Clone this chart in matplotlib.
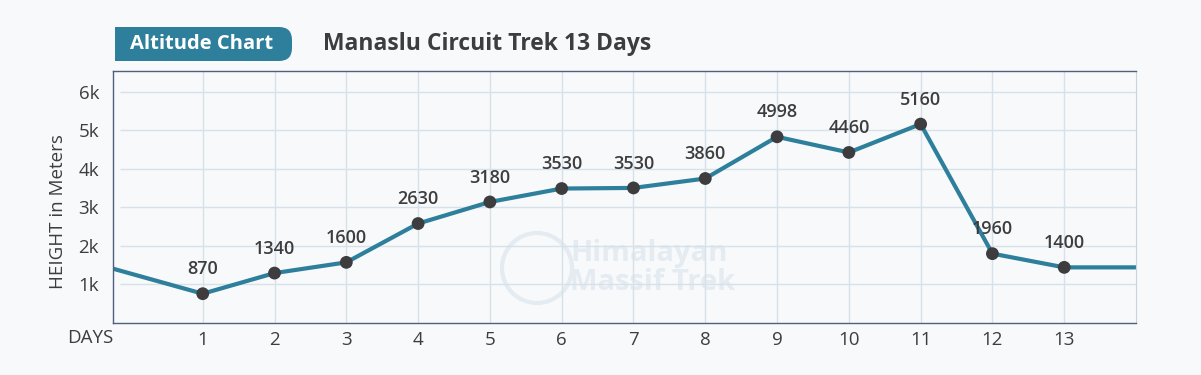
import matplotlib
matplotlib.use("Agg")
import matplotlib.pyplot as plt
from matplotlib.patches import FancyBboxPatch, Rectangle, Circle

plt.rcParams["font.family"] = ["Open Sans", "DejaVu Sans"]

# data
days = [1, 2, 3, 4, 5, 6, 7, 8, 9, 10, 11, 12, 13]
heights = [760, 1295, 1573, 2580, 3140, 3488, 3504, 3748, 4830, 4424, 5160, 1799, 1443]
labels = ["870", "1340", "1600", "2630", "3180", "3530", "3530", "3860",
          "4998", "4460", "5160", "1960", "1400"]
start_height = 1409
end_height = 1443
y_ticks = [1000, 2000, 3000, 4000, 5000, 6000]
y_tick_labels = ["1k", "2k", "3k", "4k", "5k", "6k"]

BG = "#f8f9fb"
TEAL = "#2e7f9b"
DARK = "#3d3d3f"
GRID = "#d6e1ea"
SPINE = "#4f5f80"
WATERMARK = "#e4ebf1"
X_MIN, X_MAX = -0.25, 14.0

W, H = 1201, 375
fig = plt.figure(figsize=(W / 100, H / 100), dpi=100, facecolor=BG)

# overlay in pixel units for header and watermark
over = fig.add_axes([0, 0, 1, 1], zorder=-1)
over.set_xlim(0, W)
over.set_ylim(H, 0)
over.axis("off")
over.add_patch(FancyBboxPatch((115, 27), 177, 34, boxstyle="round,pad=0,rounding_size=13",
                              facecolor=TEAL, edgecolor="none"))
over.add_patch(Rectangle((115, 27), 40, 34, facecolor=TEAL, edgecolor="none"))
over.text(202, 44, "Altitude Chart", color="white", fontsize=14.5, fontweight="bold",
          ha="center", va="center")
over.text(323, 44, "Manaslu Circuit Trek 13 Days", color=DARK, fontsize=16.5,
          fontweight="bold", ha="left", va="center")
# faint watermark
over.add_patch(Circle((537, 268), 35, facecolor="none", edgecolor=WATERMARK, linewidth=3))
over.text(570, 254, "Himalayan", color=WATERMARK, fontsize=21, fontweight="bold",
          ha="left", va="center")
over.text(570, 283, "Massif Trek", color=WATERMARK, fontsize=21, fontweight="bold",
          ha="left", va="center")

ax = fig.add_axes([113 / W, 1 - 323 / H, (1136 - 113) / W, (323 - 70.5) / H])
ax.set_facecolor("none")
ax.set_xlim(X_MIN, X_MAX)
ax.set_ylim(0, 6550)

for d in days:
    ax.axvline(d, color=GRID, linewidth=1, zorder=1)
ax.hlines(y_ticks, X_MIN + 0.1, X_MAX, color=GRID, linewidth=1, zorder=1)

xs = [X_MIN] + days + [X_MAX]
ys = [start_height] + heights + [end_height]
ax.plot(xs, ys, color=TEAL, linewidth=3, zorder=2, solid_capstyle="butt")
ax.scatter(days, heights, s=85, color=DARK, zorder=3, edgecolor="none")

for d, h, lab in zip(days, heights, labels):
    ax.annotate(lab, (d, h), xytext=(0, 17.5), textcoords="offset points",
                ha="center", va="center", fontsize=13, color=DARK, fontweight="semibold")

ax.set_xticks(days)
ax.set_xticklabels([str(d) for d in days])
ax.set_yticks(y_ticks)
ax.set_yticklabels(y_tick_labels)
ax.tick_params(axis="both", length=0, labelsize=13.5, labelcolor=DARK)
ax.tick_params(axis="x", pad=6)
ax.tick_params(axis="y", pad=10)
ax.text(X_MIN - 0.32, -0.06, "DAYS", transform=ax.get_xaxis_transform(),
        ha="center", va="center", fontsize=13.5, color=DARK)
ax.set_ylabel("HEIGHT in Meters", fontsize=13.5, color=DARK)
ax.yaxis.set_label_coords(-0.045, 0.44)

for side in ["left", "bottom", "top"]:
    ax.spines[side].set_color(SPINE)
    ax.spines[side].set_linewidth(1)
ax.spines["right"].set_color("#c9d3de")

fig.savefig("out.png", dpi=100, facecolor=BG)
